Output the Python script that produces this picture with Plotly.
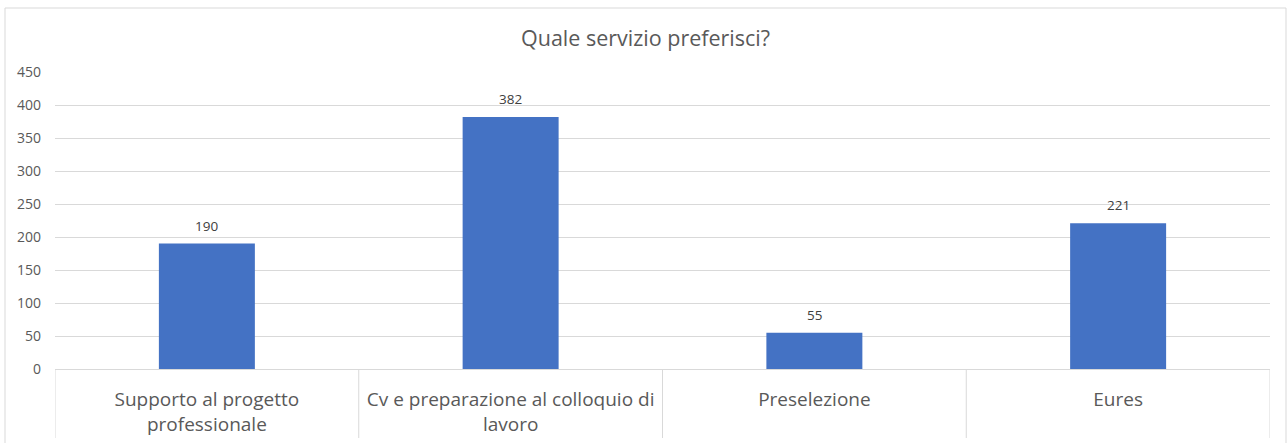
import plotly.graph_objects as go

categories = ["Supporto al progetto<br>professionale",
              "Cv e preparazione al colloquio di<br>lavoro",
              "Preselezione",
              "Eures"]
values = [190, 382, 55, 221]
y_ticks = [0, 50, 100, 150, 200, 250, 300, 350, 400, 450]

W, H = 1288, 443
ML, MR, MT, MB = 55, 18, 72, 74
PW, PH = W - ML - MR, H - MT - MB

FONT = "Open Sans"
GRID = "#d9d9d9"
TXT = "#595959"

fig = go.Figure()
fig.add_trace(go.Bar(
    x=list(range(len(categories))), y=values,
    marker=dict(color="#4472C4", line=dict(width=0)),
    width=0.316,
    hoverinfo="skip",
))

annotations = []
for i, v in enumerate(values):
    annotations.append(dict(
        x=i, y=v, xref="x", yref="y", text=str(v), showarrow=False,
        yanchor="middle", yshift=18,
        font=dict(family=FONT, size=13.5, color="#404040"),
    ))

shapes = []
# category separators below axis
for i in range(len(categories) + 1):
    shapes.append(dict(type="line", xref="x", yref="paper",
                       x0=i - 0.5, x1=i - 0.5, y0=0, y1=-(438 - (MT + PH)) / PH,
                       line=dict(color=GRID, width=1)))
# outer chart border
shapes.append(dict(type="rect", xref="paper", yref="paper",
                   x0=(5 - ML) / PW, x1=(1286 - ML) / PW,
                   y0=-(460 - (MT + PH)) / PH, y1=((MT + PH) - 8) / PH,
                   line=dict(color=GRID, width=1), fillcolor="rgba(0,0,0,0)",
                   layer="below"))

fig.update_layout(
    width=W, height=H,
    margin=dict(l=ML, r=MR, t=MT, b=MB, autoexpand=False),
    paper_bgcolor="white", plot_bgcolor="white",
    showlegend=False,
    title=dict(text="Quale servizio preferisci?", x=645.5 / W, xanchor="center",
               y=1 - 38 / H, yanchor="middle", yref="container",
               font=dict(family=FONT, size=21.5, color=TXT)),
    annotations=annotations,
    shapes=shapes,
    xaxis=dict(
        tickmode="array", tickvals=list(range(len(categories))), ticktext=categories,
        range=[-0.5, len(categories) - 0.5],
        showgrid=False, zeroline=False, showline=False, ticks="",
        tickfont=dict(family=FONT, size=19, color=TXT),
        ticklabelstandoff=17, automargin=False,
        fixedrange=True,
    ),
    yaxis=dict(
        range=[0, 450], tickmode="array", tickvals=y_ticks,
        showgrid=True, gridcolor=GRID, gridwidth=1,
        zeroline=True, zerolinecolor=GRID, zerolinewidth=1,
        showline=False, ticks="",
        tickfont=dict(family=FONT, size=14, color=TXT),
        ticklabelstandoff=13, automargin=False,
        fixedrange=True,
    ),
    bargap=0.684,
)

fig.write_html("out.html", config={"displayModeBar": False},
               post_script="document.body.style.margin='0';")
